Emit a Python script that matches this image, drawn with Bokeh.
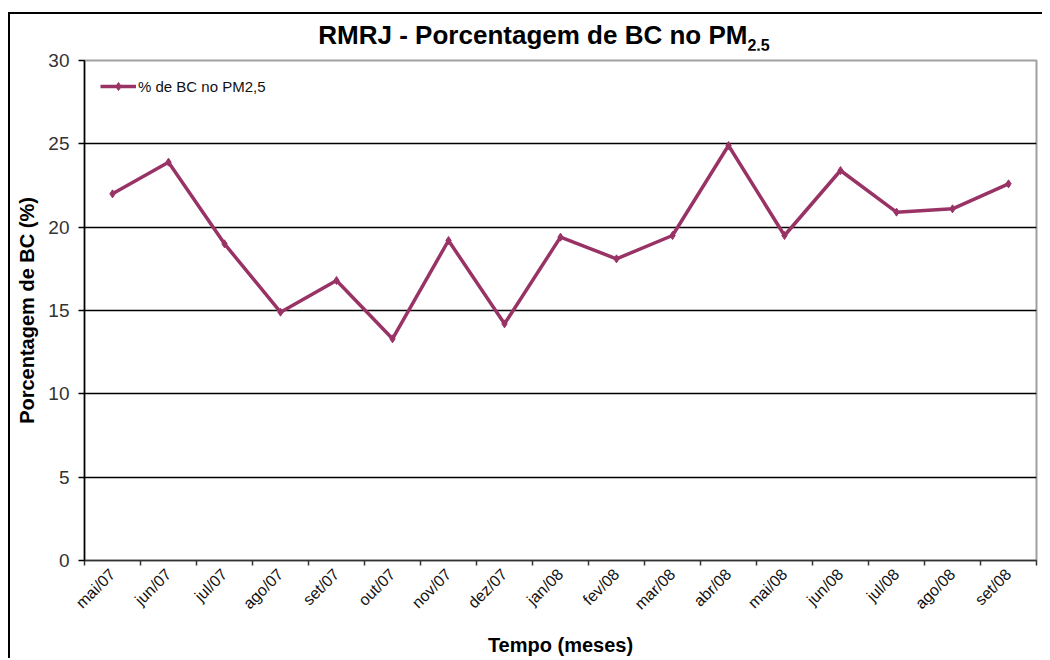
import numpy as np
from bokeh.plotting import figure
from bokeh.layouts import column
from bokeh.models import Range1d, FixedTicker, Legend, LegendItem, Div
from bokeh.embed import file_html
from bokeh.resources import INLINE

months = ["mai/07", "jun/07", "jul/07", "ago/07", "set/07", "out/07", "nov/07",
          "dez/07", "jan/08", "fev/08", "mar/08", "abr/08", "mai/08", "jun/08",
          "jul/08", "ago/08", "set/08"]
pct_bc = [22.0, 23.9, 19.0, 14.9, 16.8, 13.3, 19.2, 14.2, 19.4, 18.1,
          19.5, 24.9, 19.5, 23.4, 20.9, 21.1, 22.6]
y_ticks = [0, 5, 10, 15, 20, 25, 30]

FONT = "Liberation Sans"
COLOR = "#993366"

n = len(months)
xs = [i + 0.5 for i in range(n)]

FIG_W = 74 + 952 + 6

title = Div(
    text=('<div style="width:%dpx; box-sizing:border-box; padding-left:36px; '
          'margin:0; padding-top:8px; '
          'text-align:center; font-family:\'Liberation Sans\'; '
          'font-weight:bold; font-size:26px; line-height:26px; color:black;">'
          'RMRJ - Porcentagem de BC no PM<sub style="font-size:16px; '
          'vertical-align:-7px; line-height:0;">2,5</sub></div>') % FIG_W,
    width=FIG_W, height=36, margin=(0, 0, 0, 0))

p = figure(frame_width=952, frame_height=500, output_backend="svg",
           toolbar_location=None, x_range=Range1d(0, n), y_range=Range1d(0, 30),
           min_border_left=74, min_border_right=6, min_border_top=10,
           min_border_bottom=94, background_fill_color="white",
           border_fill_color="white", margin=(0, 0, 0, 0))
p.outline_line_color = "#a0a0a0"
p.outline_line_width = 2

ln = p.line(xs, pct_bc, line_color=COLOR, line_width=3.5)
sc = p.scatter(xs, pct_bc, marker="diamond", size=8, color=COLOR)

# x axis
p.xaxis.ticker = FixedTicker(ticks=xs, minor_ticks=list(range(n + 1)))
p.xaxis.major_label_overrides = {x: m for x, m in zip(xs, months)}
p.xaxis.major_label_orientation = np.pi / 4
p.xaxis.major_tick_line_color = None
p.xaxis.minor_tick_line_color = "#333333"
p.xaxis.minor_tick_line_width = 1.5
p.xaxis.minor_tick_out = 5
p.xaxis.minor_tick_in = 0
p.xaxis.axis_line_color = "#333333"
p.xaxis.axis_line_width = 1.5
p.xaxis.major_label_text_font = FONT
p.xaxis.major_label_text_font_size = "16px"
p.xaxis.major_label_text_color = "#111111"
p.xaxis.major_label_standoff = 5
p.xaxis.axis_label = "Tempo (meses)"
p.xaxis.axis_label_text_font = FONT
p.xaxis.axis_label_text_font_style = "bold"
p.xaxis.axis_label_text_font_size = "20px"
p.xaxis.axis_label_text_color = "black"
p.xaxis.axis_label_standoff = 12

# y axis
p.yaxis.ticker = FixedTicker(ticks=y_ticks)
p.yaxis.minor_tick_line_color = None
p.yaxis.major_tick_out = 6
p.yaxis.major_tick_in = 0
p.yaxis.axis_line_color = "black"
p.yaxis.axis_line_width = 1.5
p.yaxis.major_tick_line_width = 1.5
p.yaxis.major_label_text_font = FONT
p.yaxis.major_label_text_font_size = "19px"
p.yaxis.major_label_text_color = "#333333"
p.yaxis.major_label_standoff = 9
p.yaxis.axis_label = "Porcentagem de BC (%)"
p.yaxis.axis_label_text_font = FONT
p.yaxis.axis_label_text_font_style = "bold"
p.yaxis.axis_label_text_font_size = "20px"
p.yaxis.axis_label_text_color = "black"
p.yaxis.axis_label_standoff = 7

p.xgrid.grid_line_color = None
p.ygrid.ticker = FixedTicker(ticks=y_ticks[1:-1])
p.ygrid.grid_line_color = "black"
p.ygrid.grid_line_width = 1.5

legend = Legend(items=[LegendItem(label="% de BC no PM2,5", renderers=[ln, sc])],
                location="top_left", border_line_alpha=0,
                background_fill_alpha=0, margin=6, padding=10,
                glyph_width=36, glyph_height=20, label_standoff=2,
                label_text_font=FONT, label_text_font_size="15px",
                label_text_color="#111111")
p.add_layout(legend)

layout = column(title, p, spacing=0)
layout.styles = {"margin-left": "8px", "margin-top": "12px",
                 "border-left": "2px solid black", "border-top": "2px solid black"}

open("out.html", "w").write(file_html(layout, INLINE))
